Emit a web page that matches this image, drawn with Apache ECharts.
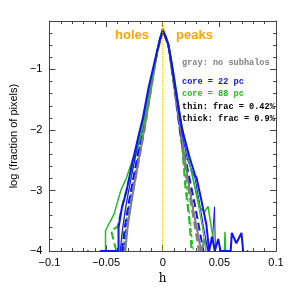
<!DOCTYPE html>
<html><head><meta charset="utf-8">
<script src="https://cdn.jsdelivr.net/npm/echarts@6/dist/echarts.min.js"></script>
<style>html,body{margin:0;padding:0;background:#fff}#c{width:293px;height:290px}</style>
</head><body><div id="c"></div>
<script>
// x ticks and y ticks
const xTicks = [-0.1, -0.05, 0, 0.05, 0.1];
const yTicks = [-4, -3, -2, -1];

// blue: core = 22 pc   [h, log fraction]
const blueThick = [[-0.0665,-4],[-0.0655,-4],null,[-0.0555,-4],[-0.039,-4],[-0.039,-3.61],[-0.036,-3.28],[-0.032,-3.01],[-0.0275,-2.6],[-0.0205,-2.03],[-0.0175,-1.8],[-0.0125,-1.3],[-0.0075,-0.9],
  [-0.005,-0.70],[-0.0025,-0.50],[0,-0.36],[0.0025,-0.45],[0.005,-0.60],[0.0075,-0.85],[0.0125,-1.45],[0.017,-1.98],[0.024,-2.47],[0.0285,-2.74],[0.030,-2.80],[0.034,-3.15],[0.0385,-3.56],[0.041,-4],[0.0435,-3.76],[0.046,-4],[0.049,-3.8],[0.051,-4],[0.060,-4],[0.061,-3.7],[0.065,-3.87],[0.0695,-3.7],[0.071,-4],null,[0.0745,-4],[0.0755,-4]];
const blueThin = [[-0.0375,-4],[-0.036,-3.7],[-0.033,-3.3],[-0.029,-2.9],[-0.0205,-2.1],[-0.0125,-1.35],[-0.005,-0.70],[0,-0.36],[0.005,-0.60],[0.0125,-1.5],[0.017,-2.05],[0.022,-2.5],[0.0285,-2.8],[0.0325,-3.2],[0.036,-3.6],[0.040,-4],[0.044,-3.8],[0.0457,-3.27],[0.0465,-4]];
const blueThickDash = [[-0.036,-4],[-0.033,-3.55],[-0.030,-3.2],[-0.025,-2.7],[-0.018,-2.0],[-0.01,-1.2],[-0.005,-0.72],[0,-0.36],[0.005,-0.60],[0.010,-1.2],[0.016,-2.1],[0.022,-2.65],[0.0285,-3.25],[0.032,-3.6],[0.036,-4]];
const blueThinDash = [[-0.035,-4],[-0.032,-3.5],[-0.028,-3.05],[-0.018,-2.05],[-0.005,-0.72],[0,-0.36],[0.005,-0.60],[0.016,-2.1],[0.021,-2.6],[0.027,-3.3],[0.0335,-4]];

// green: core = 88 pc
const greenThick = [[-0.0505,-4],[-0.0505,-3.66],[-0.043,-3.39],[-0.037,-3.0],[-0.032,-2.79],[-0.025,-2.4],[-0.016,-1.82],[-0.010,-1.2],[-0.005,-0.70],[-0.0025,-0.48],[0,-0.33],[0.0025,-0.45],[0.005,-0.58],[0.010,-1.1],[0.016,-1.85],[0.024,-2.58],[0.0328,-3.28],[0.037,-3.35],[0.040,-3.26],[0.0457,-3.94],[0.046,-4],null,[0.0545,-4],[0.055,-3.68],[0.0555,-4]];
const greenThin = [[-0.037,-4],[-0.035,-3.6],[-0.031,-3.1],[-0.026,-2.6],[-0.018,-2.0],[-0.005,-0.70],[0,-0.34],[0.005,-0.58],[0.018,-2.05],[0.026,-2.75],[0.031,-3.2],[0.035,-3.6],[0.038,-4]];
const greenThickDash = [[-0.041,-4],[-0.0455,-3.66],[-0.040,-3.6],[-0.035,-3.2],[-0.028,-2.7],[-0.018,-1.95],[-0.005,-0.72],[0,-0.34],[0.005,-0.58],[0.0165,-2.1],[0.0198,-2.9],[0.0235,-3.5],[0.0256,-4]];
const greenThinDash = [[-0.034,-4],[-0.030,-3.4],[-0.022,-2.5],[-0.005,-0.72],[0,-0.34],[0.005,-0.60],[0.017,-2.3],[0.022,-3.1],[0.027,-4]];

// gray: no subhalos
const grayThick = [[-0.033,-4],[-0.031,-3.6],[-0.026,-3.0],[-0.0147,-1.82],[-0.005,-0.72],[0,-0.33],[0.005,-0.58],[0.014,-1.75],[0.022,-2.8],[0.027,-3.33],[0.031,-3.7],[0.034,-4],[0.037,-3.8],[0.040,-4]];
const grayThickDash = [[-0.034,-4],[-0.030,-3.4],[-0.024,-2.8],[-0.016,-2.0],[-0.005,-0.72],[0,-0.34],[0.005,-0.60],[0.015,-2.0],[0.022,-2.9],[0.028,-3.55],[0.032,-4]];

const zeroLine = [[0,-4],[0,-0.2]];

const BLUE = '#1010ff', GREEN = '#22bb22', GRAY = '#808080', ORANGE = '#ffa500';
function ln(data, color, width, type) {
  return {type:'line', data:data, symbol:'none', connectNulls:false, animation:false,
    lineStyle:{color:color, width:width, type:type}, clip:true};
}
const minus = v => String(v).replace('-', '\u2212');
const chart = echarts.init(document.getElementById('c'));
const txt = (t, x, y, color, size, font, weight) => ({type:'text', left:x, top:y,
  style:{text:t, fill:color, font:(weight||'normal')+' '+size+'px '+font}});
const AX = {lineStyle:{color:'#444', width:1}, onZero:false};
const TK = {inside:true, length:6, lineStyle:{color:'#444'}};
const MT = {show:true, splitNumber:5, length:3, lineStyle:{color:'#444'}};
chart.setOption({
  animation:false,
  grid:{left:44, right:17, top:21, bottom:36},
  xAxis:[{type:'value', min:xTicks[0], max:xTicks[xTicks.length-1], interval:0.05, position:'bottom',
    axisLine:AX, axisTick:TK, minorTick:MT, splitLine:{show:false},
    axisLabel:{color:'#000', fontSize:11, fontFamily:'Liberation Sans', margin:6, formatter:v=>minus(v)},
    name:'h', nameLocation:'middle', nameGap:21, nameTextStyle:{color:'#000', fontSize:12, fontFamily:'DejaVu Serif'}},
   {type:'value', min:xTicks[0], max:xTicks[xTicks.length-1], interval:0.05, position:'top',
    axisLine:AX, axisTick:TK, minorTick:MT, splitLine:{show:false}, axisLabel:{show:false}}],
  yAxis:[{type:'value', min:yTicks[0], max:-0.2, interval:1, position:'left',
    axisLine:AX, axisTick:TK, minorTick:MT, splitLine:{show:false},
    axisLabel:{color:'#000', fontSize:11, fontFamily:'Liberation Sans', margin:7,
      formatter:v=> (Math.abs(v-Math.round(v))<1e-6 ? minus(Math.round(v)) : '')},
    name:'log (fraction of pixels)', nameLocation:'middle', nameGap:26,
    nameTextStyle:{color:'#000', fontSize:11, fontFamily:'Liberation Sans'}},
   {type:'value', min:yTicks[0], max:-0.2, interval:1, position:'right',
    axisLine:AX, axisTick:TK, minorTick:MT, splitLine:{show:false}, axisLabel:{show:false}}],
  series:[
    ln(grayThickDash, GRAY, 2, 'dashed'),
    ln(greenThinDash, GREEN, 1, 'dashed'),
    ln(greenThickDash, GREEN, 2, 'dashed'),
    ln(blueThinDash, BLUE, 1, 'dashed'),
    ln(blueThickDash, BLUE, 2, 'dashed'),
    ln(grayThick, GRAY, 2, 'solid'),
    ln(greenThin, GREEN, 1, 'solid'),
    ln(blueThin, BLUE, 1, 'solid'),
    ln(greenThick, GREEN, 1.5, 'solid'),
    ln(blueThick, BLUE, 2, 'solid'),
    ln(zeroLine, ORANGE, 1, 'dotted')
  ],
  graphic:[
    txt('holes', 115, 29, ORANGE, 13, 'Liberation Sans', 'bold'),
    txt('peaks', 176, 29, ORANGE, 13, 'Liberation Sans', 'bold'),
    txt('gray: no subhalos', 182, 58, GRAY, 8.6, 'Liberation Mono', 'bold'),
    txt('core = 22 pc', 182, 77, BLUE, 8.6, 'Liberation Mono', 'bold'),
    txt('core = 88 pc', 182, 89, GREEN, 8.6, 'Liberation Mono', 'bold'),
    txt('thin: frac = 0.42%', 182, 102, '#000', 8.6, 'Liberation Mono', 'bold'),
    txt('thick: frac = 0.9%', 182, 114, '#000', 8.6, 'Liberation Mono', 'bold')
  ]
});
</script></body></html>
